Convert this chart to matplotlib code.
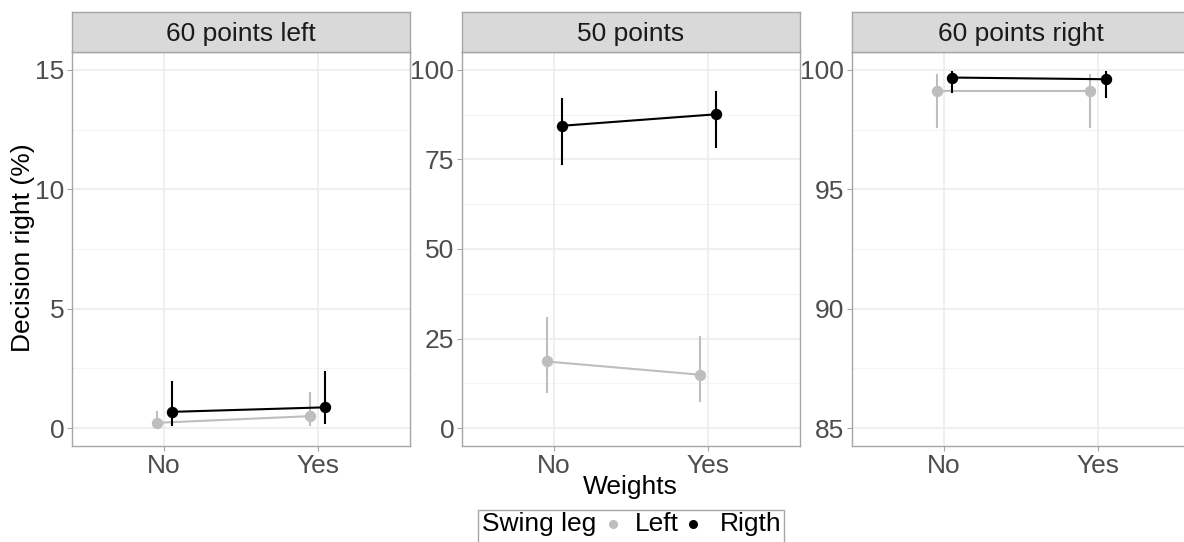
import matplotlib

matplotlib.use("Agg")

import matplotlib.pyplot as plt
from matplotlib.lines import Line2D
from matplotlib.patches import Rectangle

plt.rcParams["font.family"] = ["Liberation Sans", "DejaVu Sans"]

# Decision right (%) by weights condition, one facet per stimulus
facets = ["60 points left", "50 points", "60 points right"]
weights = ["No", "Yes"]
swing_legs = ["Left", "Rigth"]
leg_colors = {"Left": "#bebebe", "Rigth": "#000000"}

mean_left = [[0.22, 0.50], [18.6, 14.9], [99.13, 99.13]]
low_left = [[0.05, 0.12], [10.0, 7.7], [97.62, 97.62]]
high_left = [[0.68, 1.49], [30.8, 25.5], [99.78, 99.78]]

mean_right = [[0.68, 0.87], [84.4, 87.6], [99.68, 99.61]]
low_right = [[0.15, 0.20], [73.8, 78.5], [99.07, 98.86]]
high_right = [[1.91, 2.36], [91.9, 93.8], [99.93, 99.93]]

y_limits = [(0, 15), (0, 100), (85, 100)]
y_breaks = [[0, 5, 10, 15], [0, 25, 50, 75, 100], [85, 90, 95, 100]]

W, H = 1184, 542
fig = plt.figure(figsize=(W / 100, H / 100), dpi=100)

panel_left = [72, 462, 852]
panel_width = 338
panel_top, panel_bottom = 52, 446
strip_top = 12

border = "#a6a6a6"
grid_major = "#ebebeb"
grid_minor = "#f4f4f4"
tick_color = "#4d4d4d"
dodge = 0.05
fs = 19

series = {
    "Left": (mean_left, low_left, high_left, -dodge),
    "Rigth": (mean_right, low_right, high_right, dodge),
}

for i, name in enumerate(facets):
    x0 = panel_left[i]
    ax = fig.add_axes([
        x0 / W,
        (H - panel_bottom) / H,
        panel_width / W,
        (panel_bottom - panel_top) / H,
    ])
    lo, hi = y_limits[i]
    pad = 0.05 * (hi - lo)
    ax.set_ylim(lo - pad, hi + pad)
    ax.set_xlim(0.4, 2.6)

    breaks = y_breaks[i]
    step = breaks[1] - breaks[0]
    minors = [b + step / 2 for b in breaks[:-1]]
    for m in minors:
        ax.axhline(m, color=grid_minor, lw=0.8, zorder=0)
    for b in breaks:
        ax.axhline(b, color=grid_major, lw=1.1, zorder=0)
    for xpos in (1, 2):
        ax.axvline(xpos, color=grid_major, lw=1.1, zorder=0)

    for leg in swing_legs:
        means, lows, highs, off = series[leg]
        xs = [1 + off, 2 + off]
        color = leg_colors[leg]
        ax.plot(xs, means[i], color=color, lw=1.5, zorder=3)
        for x, lo_v, hi_v in zip(xs, lows[i], highs[i]):
            ax.plot([x, x], [lo_v, hi_v], color=color, lw=1.5, zorder=3)
        ax.plot(xs, means[i], "o", color=color, ms=7.2, zorder=4)

    ax.set_xticks([1, 2])
    ax.set_xticklabels(weights)
    ax.set_yticks(breaks)
    ax.set_yticklabels([str(b) for b in breaks])
    ax.tick_params(axis="both", colors=border, labelcolor=tick_color,
                   labelsize=fs, length=3.5, width=0.8, pad=2)
    for spine in ax.spines.values():
        spine.set_color(border)
        spine.set_linewidth(1.0)

    # facet strip
    strip = fig.add_axes([
        x0 / W,
        (H - panel_top) / H,
        panel_width / W,
        (panel_top - strip_top) / H,
    ])
    strip.set_facecolor("#d9d9d9")
    strip.set_xticks([])
    strip.set_yticks([])
    for spine in strip.spines.values():
        spine.set_color(border)
        spine.set_linewidth(1.0)
    strip.text(0.5, 0.46, name, ha="center", va="center",
               fontsize=fs, color="#1a1a1a", transform=strip.transAxes)

fig.text(23 / W, 1 - 248 / H, "Decision right (%)", rotation=90,
         ha="center", va="center", fontsize=fs, color="black")
fig.text(630 / W, 1 - 487 / H, "Weights", ha="center", va="center",
         fontsize=fs, color="black")

# legend box along the bottom
fig.patches.append(Rectangle((478 / W, 1 - 560 / H), 306 / W, 50 / H,
                             transform=fig.transFigure, facecolor="white",
                             edgecolor=border, lw=1.0))
legend_y = 1 - 524 / H
fig.text(482 / W, legend_y, "Swing leg", ha="left", va="center",
         fontsize=fs, color="black")
for leg, dot_x, text_x in [("Left", 613, 635), ("Rigth", 693, 720)]:
    fig.lines.append(Line2D([dot_x / W], [legend_y], marker="o",
                            color=leg_colors[leg], ms=5.5, ls="none",
                            transform=fig.transFigure))
    fig.text(text_x / W, legend_y, leg, ha="left", va="center",
             fontsize=fs, color="black")

fig.savefig("out.png", dpi=100)
